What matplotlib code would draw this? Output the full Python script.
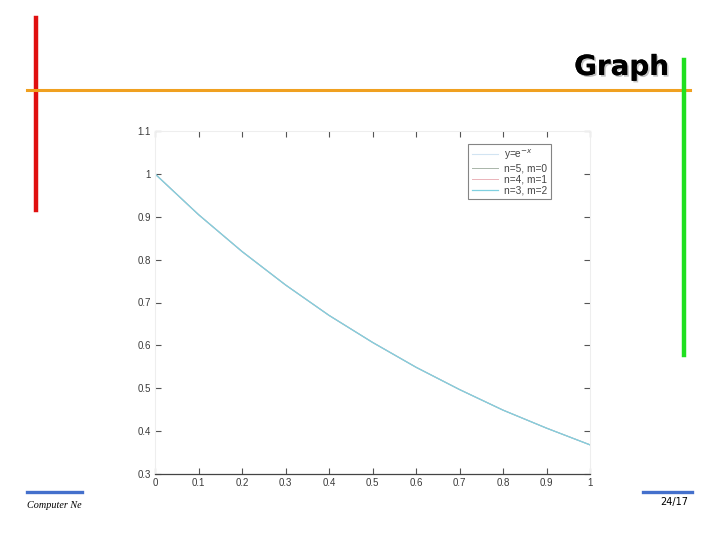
import matplotlib
matplotlib.use("Agg")
import matplotlib.pyplot as plt
from matplotlib.lines import Line2D
import matplotlib.patheffects as pe

# Data (all four curves overlap)
x_vals = [0.0, 0.1, 0.2, 0.3, 0.4, 0.5, 0.6, 0.7, 0.8, 0.9, 1.0]
y_exact = [1.0, 0.905, 0.819, 0.741, 0.670, 0.607, 0.549, 0.497, 0.449, 0.407, 0.368]
y_n5m0 = [1.0, 0.905, 0.819, 0.741, 0.670, 0.607, 0.549, 0.497, 0.449, 0.407, 0.368]
y_n4m1 = [1.0, 0.905, 0.819, 0.741, 0.670, 0.607, 0.549, 0.497, 0.449, 0.407, 0.368]
y_n3m2 = [1.0, 0.905, 0.819, 0.741, 0.670, 0.607, 0.549, 0.497, 0.449, 0.407, 0.368]
labels = [r"y=e$^{-x}$", "n=5, m=0", "n=4, m=1", "n=3, m=2"]
xticks = [0, 0.1, 0.2, 0.3, 0.4, 0.5, 0.6, 0.7, 0.8, 0.9, 1]
xticklabels = ["0", "0.1", "0.2", "0.3", "0.4", "0.5", "0.6", "0.7", "0.8", "0.9", "1"]
yticks = [0.3, 0.4, 0.5, 0.6, 0.7, 0.8, 0.9, 1.0, 1.1]
yticklabels = ["0.3", "0.4", "0.5", "0.6", "0.7", "0.8", "0.9", "1", "1.1"]

plt.rcParams['font.family'] = ['Liberation Sans', 'DejaVu Sans']

fig = plt.figure(figsize=(7.2, 5.4), dpi=100)
fig.patch.set_facecolor("white")

W, H = 720.0, 540.0
def fx(px): return px / W
def fy(py): return 1 - py / H

ax = fig.add_axes([fx(155), fy(474), fx(590) - fx(155), fy(131) - fy(474)])
colors = ["#d2e4f2", "#a9b5a9", "#eab3b9", "#7fd0e0"]
widths = [0.8, 0.7, 0.7, 0.9]
for ys, c, lab, w in zip([y_exact, y_n5m0, y_n4m1, y_n3m2], colors, labels, widths):
    ax.plot(x_vals, ys, color=c, lw=w, label=lab)

ax.set_xlim(0, 1)
ax.set_ylim(0.3, 1.1)
ax.set_xticks(xticks)
ax.set_xticklabels(xticklabels)
ax.set_yticks(yticks)
ax.set_yticklabels(yticklabels)
ax.tick_params(direction="in", length=4, width=0.8, labelsize=7, colors="#555555",
               top=True, right=True, pad=3, labelcolor="#3a3a3a")
for s in ["top", "right", "left"]:
    ax.spines[s].set_color("#eeeeee")
    ax.spines[s].set_linewidth(0.8)
ax.spines["bottom"].set_color("#444444")
ax.spines["bottom"].set_linewidth(0.9)

bx = (551 - 155) / 435.0
by = (474 - 144) / 343.0
leg = ax.legend(loc="upper right", fontsize=7.3, frameon=True, fancybox=False,
                handlelength=2.6, handletextpad=0.6, borderpad=0.35, labelspacing=0.12,
                bbox_to_anchor=(bx, by), borderaxespad=0.0)
leg.get_frame().set_edgecolor("#666666")
leg.get_frame().set_linewidth(0.8)
for t in leg.get_texts():
    t.set_color("#444444")

# Slide decorations
fig.add_artist(Line2D([fx(36), fx(36)], [fy(18), fy(210)], color="#e01010", lw=3.2))
fig.add_artist(Line2D([fx(27), fx(690)], [fy(90), fy(90)], color="#f0a020", lw=2.2))
fig.add_artist(Line2D([fx(684), fx(684)], [fy(60), fy(355)], color="#20e020", lw=3.2))
fig.add_artist(Line2D([fx(27), fx(82)], [fy(492), fy(492)], color="#4470cc", lw=2.4))
fig.add_artist(Line2D([fx(643), fx(692)], [fy(492), fy(492)], color="#4470cc", lw=2.4))

fig.text(fx(669), fy(67), "Graph", ha="right", va="center", fontsize=20,
         fontweight="bold", family="DejaVu Sans", color="black",
         path_effects=[pe.withSimplePatchShadow(offset=(1.2, -1.2), shadow_rgbFace="#aaaaaa", alpha=0.7), pe.Normal()])
fig.text(fx(27), fy(505), "Computer Ne", ha="left", va="center", fontsize=7.3,
         style="italic", family="Liberation Serif", color="black")
fig.text(fx(688), fy(502), "24/17", ha="right", va="center", fontsize=7,
         family="DejaVu Sans", color="black")

fig.savefig("out.png", dpi=100, facecolor="white")
